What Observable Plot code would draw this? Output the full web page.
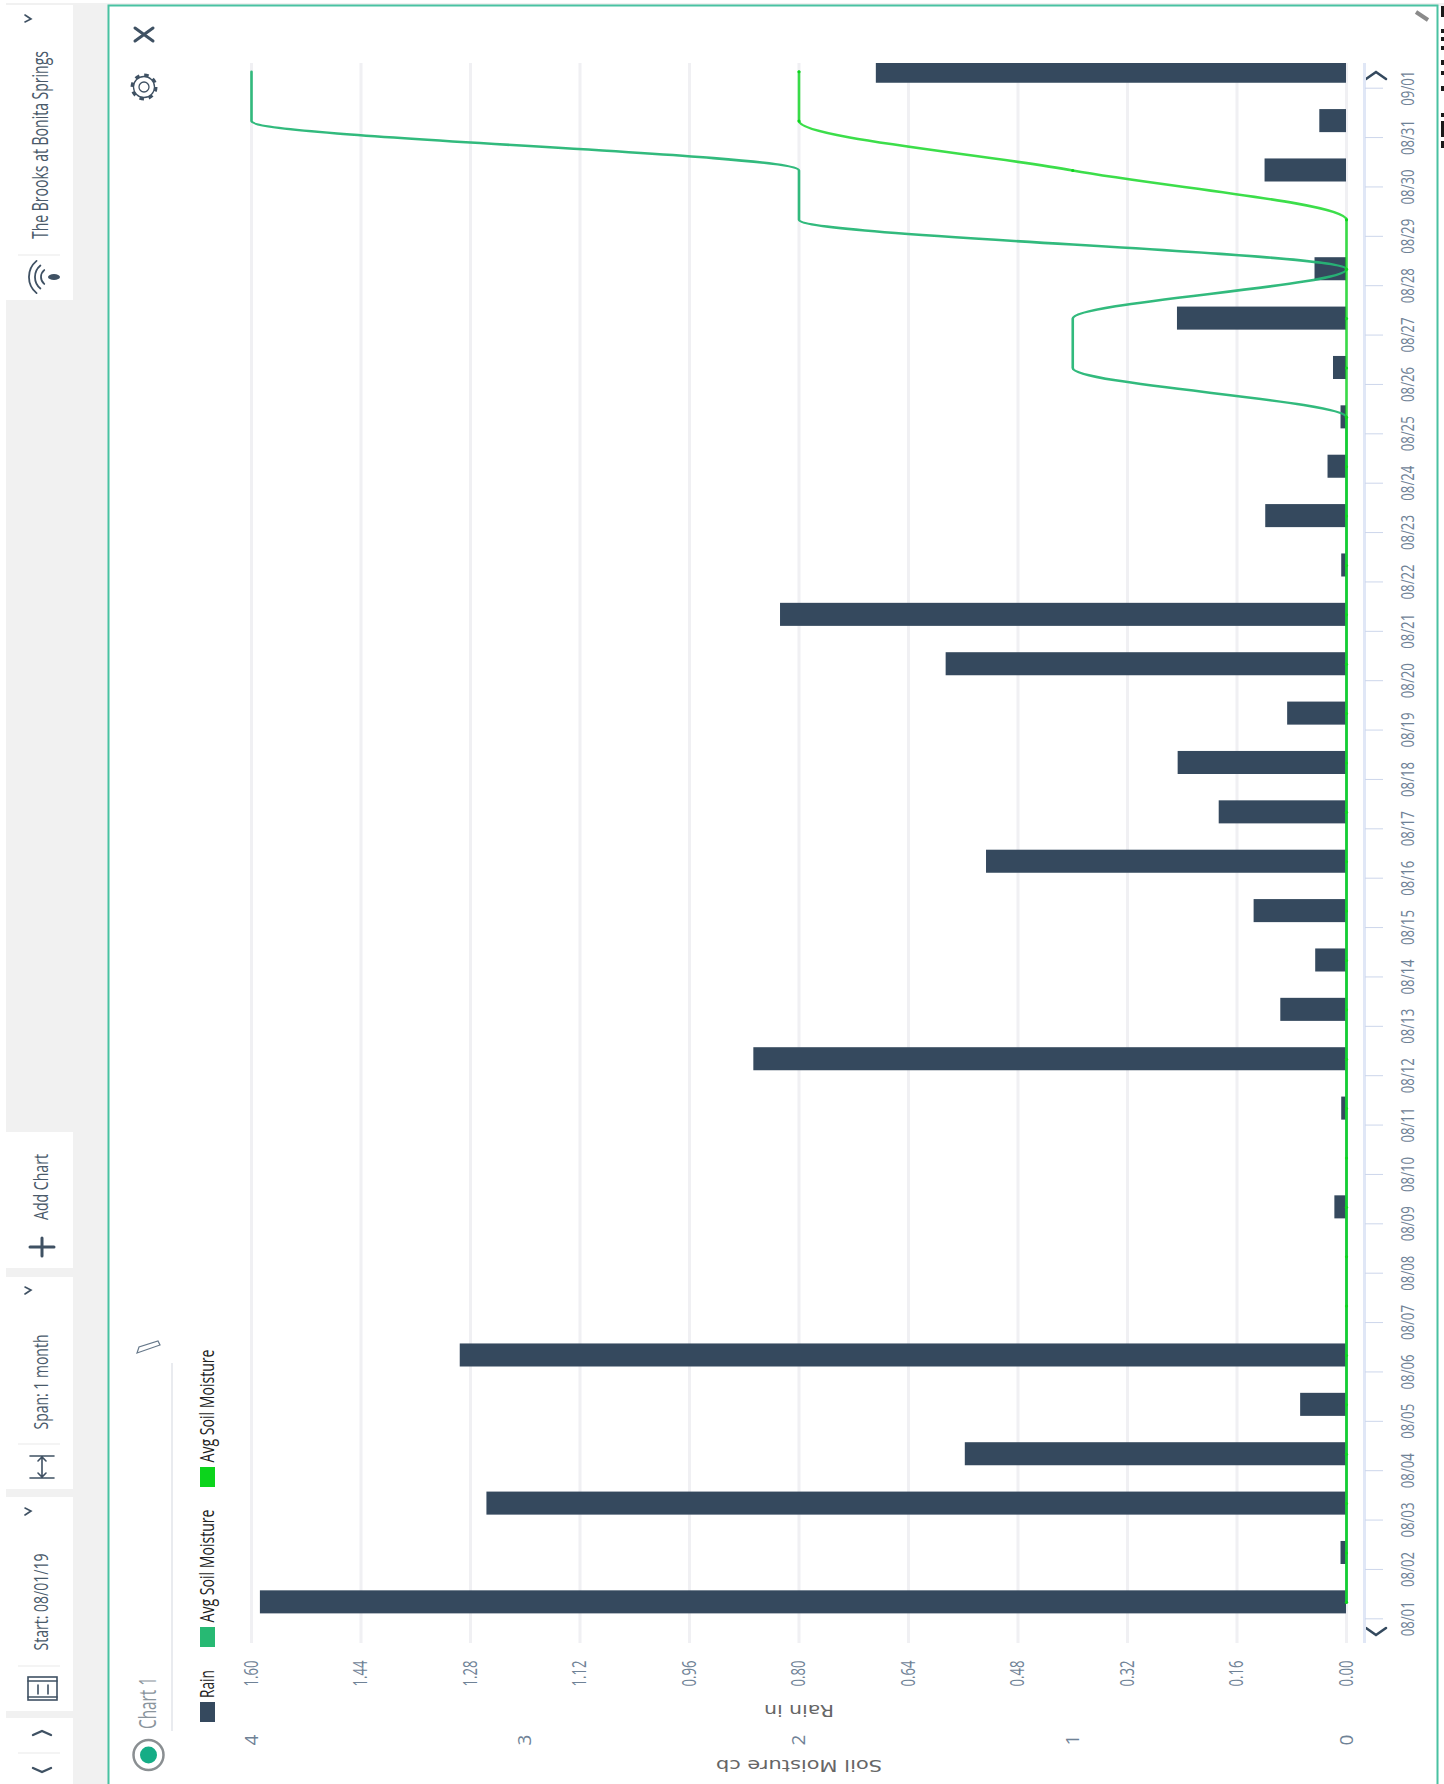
<!DOCTYPE html>
<html><head><meta charset="utf-8">
<script src="https://cdn.jsdelivr.net/npm/d3@7"></script>
<script src="https://cdn.jsdelivr.net/npm/@observablehq/plot@0.6"></script>
<style>
html,body{margin:0;padding:0;background:#fff;overflow:hidden}
#wrap{position:relative;width:1444px;height:1784px;overflow:hidden}
#wrap svg{position:absolute;left:0;top:0}
</style></head><body><div id="wrap"></div>
<script>
const dayLabels = ["08/01","08/02","08/03","08/04","08/05","08/06","08/07","08/08","08/09","08/10","08/11","08/12","08/13","08/14","08/15","08/16","08/17","08/18","08/19","08/20","08/21","08/22","08/23","08/24","08/25","08/26","08/27","08/28","08/29","08/30","08/31","09/01"];
const rainIn = [1.587,0.008,1.256,0.557,0.067,1.295,0,0,0.017,0,0.007,0.866,0.096,0.045,0.135,0.526,0.186,0.246,0.086,0.585,0.827,0.007,0.118,0.027,0.008,0.019,0.247,0.046,0,0.119,0.039,0.687];
const avgSoilTeal = [0,0,0,0,0,0,0,0,0,0,0,0,0,0,0,0,0,0,0,0,0,0,0,0,0,1,1,0,2,2,4,4];
const avgSoilGreen = [0,0,0,0,0,0,0,0,0,0,0,0,0,0,0,0,0,0,0,0,0,0,0,0,0,0,0,0,0,1,2,2];
const rainTicks = [0,0.16,0.32,0.48,0.64,0.8,0.96,1.12,1.28,1.44,1.6];
const soilTicks = [0,1,2,3,4];

const DAY = 864e5;
const day = i => new Date(Date.UTC(2019,7,1+i));
const at = (i,h) => new Date(+day(i)+h*36e5);
const rows = dayLabels.map((label,i)=>({label,i,rain:rainIn[i],teal:avgSoilTeal[i],green:avgSoilGreen[i],t:at(i,8),t1:at(i,2.4),t2:at(i,13.6)}));
const soilToRain = d => d/2.5;
const TEAL="#27b676", GREEN="#0bd61d", NAVY="#35495e", AXISTXT="#6f8296";

const chart = Plot.plot({
  width:1444,height:1784,marginLeft:251,marginRight:98,marginTop:63,marginBottom:141,
  style:{background:"transparent",overflow:"visible"},
  x:{domain:[1.6,0],label:null,axis:null},
  y:{type:"utc",domain:[new Date(Date.UTC(2019,6,31,12)),new Date(Date.UTC(2019,8,1,12))],label:null,axis:null},
  marks:[
    Plot.gridX(rainTicks,{stroke:"#f0f0f3",strokeWidth:3,strokeOpacity:1}),
    Plot.ruleX([0],{dx:18,stroke:"#e0e7f6",strokeWidth:3}),
    Plot.rectX(rows,{x1:()=>0,x2:"rain",y1:"t1",y2:"t2",fill:NAVY,clip:true}),
    Plot.lineX(rows,{x:d=>soilToRain(d.teal),y:"t",stroke:TEAL,strokeWidth:2.6,strokeOpacity:.95,curve:"monotone-y"}),
    Plot.lineX(rows,{x:d=>soilToRain(d.green),y:"t",stroke:GREEN,strokeWidth:2.6,strokeOpacity:.8,curve:"monotone-y"}),
    Plot.dot(rows,{x:d=>soilToRain(d.green),y:"t",r:1.6,fill:GREEN}),
    Plot.axisX(rainTicks,{anchor:"bottom",tickSize:0,tickPadding:17,tickRotate:-90,tickFormat:d3.format(".2f"),fontSize:20,fill:AXISTXT,ariaLabel:"rain-axis"}),
    Plot.axisX(soilTicks.map(soilToRain),{anchor:"bottom",tickSize:0,tickPadding:91,tickRotate:-90,tickFormat:d=>String(Math.round(d*2.5)),fontSize:19,fill:AXISTXT,ariaLabel:"soil-axis"}),
    Plot.axisY(rows.map(d=>d.i).map(day),{anchor:"right",dx:18,tickSize:18,tickPadding:31,tickRotate:-90,tickFormat:d=>dayLabels[Math.round((d-day(0))/DAY)],stroke:"#ccd6eb",fontSize:19,fill:AXISTXT,textStroke:"none",ariaLabel:"day-axis"}),
    Plot.text(["Rain in"],{x:()=>0.8,frameAnchor:"bottom",dy:61,rotate:180,text:d=>d,fontSize:15,fill:"#666"}),
    Plot.text(["Soil Moisture cb"],{x:()=>0.8,frameAnchor:"bottom",dy:116,rotate:180,text:d=>d,fontSize:15,fill:"#666"})
  ]
});
const FONT="'Open Sans',sans-serif";
const q=(s)=>d3.select(chart).selectAll(s);
q("text").attr("font-family",FONT);
const fit=(aria,len)=>q(`g[aria-label^="${aria}"] text`).attr("textLength",len).attr("lengthAdjust","spacingAndGlyphs");
fit("rain-axis",26);
fit("day-axis",35);
q("text").filter(function(){return this.textContent==="Rain in"}).attr("font-family","'DejaVu Sans'").attr("textLength",70).attr("lengthAdjust","spacingAndGlyphs");
q("text").filter(function(){return this.textContent==="Soil Moisture cb"}).attr("font-family","'DejaVu Sans'").attr("textLength",166).attr("lengthAdjust","spacingAndGlyphs");

const arc=r=>`M${50-.64*r} ${277-.77*r}A${r} ${r} 0 0 0 ${50-.64*r} ${277+.77*r}`;
const deadBlocks=[[6,17],[29,33],[37,41],[46,50],[60,65],[71,75],[86,91],[113,117],[121,137],[141,148]];
const chrome=`<svg width="1444" height="1784" viewBox="0 0 1444 1784" xmlns="http://www.w3.org/2000/svg" style="font-family:${FONT}">
<rect x="6" y="3" width="1438" height="3" fill="#f0f0f0"/>
<rect x="6" y="3" width="102" height="1781" fill="#f1f1f1"/>
<rect x="6" y="5" width="67" height="295" fill="#fff"/>
<rect x="6" y="1132" width="67" height="136" fill="#fff"/>
<rect x="6" y="1277" width="67" height="212" fill="#fff"/>
<rect x="6" y="1497" width="67" height="214" fill="#fff"/>
<rect x="6" y="1718" width="67" height="66" fill="#fff"/>
<g stroke="#e9e9e9"><path d="M18 255H60M18 1444H60M18 1666H60M18 1753H60"/></g>
<path d="M108.5 1784V5.5H1437.5V1784" fill="none" stroke="#49c2a2" stroke-width="2"/>
<path d="M172 1363V1731" stroke="#e2e5ea" stroke-width="1.5"/>
${[["The Brooks at Bonita Springs",48,145,188,21],["Add Chart",48,1187,66,20],["Span: 1 month",48,1382,95,20],["Start: 08/01/19",48,1602,97,20]].map(([t,x,y,l,f])=>`<text transform="translate(${x} ${y}) rotate(-90)" text-anchor="middle" font-size="${f}" fill="#4a5a6a" textLength="${l}" lengthAdjust="spacingAndGlyphs">${t}</text>`).join("")}
<text transform="translate(156 1703) rotate(-90)" text-anchor="middle" font-size="24" fill="#8a949c" textLength="52" lengthAdjust="spacingAndGlyphs">Chart 1</text>
${[["Rain",1684,28],["Avg Soil Moisture",1566,113],["Avg Soil Moisture",1406,113]].map(([t,y,l])=>`<text transform="translate(214 ${y}) rotate(-90)" text-anchor="middle" font-size="20" fill="#222" textLength="${l}" lengthAdjust="spacingAndGlyphs">${t}</text>`).join("")}
<rect x="200" y="1702" width="15" height="20" fill="#35495e"/>
<rect x="200" y="1627" width="15" height="20" fill="#27b973"/>
<rect x="200" y="1467" width="15" height="20" fill="#0cd41c"/>
<g fill="none" stroke="#3f5163" stroke-linecap="round">
<path d="M135 28L153 41M153 28L135 41" stroke-width="3"/>
<path d="M137 1353L160 1345L158 1341L139 1347Z" stroke-width="1.2" stroke="#66788a"/>
<circle cx="144" cy="87" r="5" stroke-width="1.3"/><circle cx="144" cy="87" r="12" stroke-width="3" stroke-dasharray="4.5 4.9" stroke-linecap="butt"/><circle cx="144" cy="87" r="10.5" stroke-width="1.3"/>
<path d="M25 15L31 19L25 22M25 1287L31 1290L25 1294M25 1508L31 1511L25 1515" stroke-width="1.6"/>
<path d="M33 1735L42 1731L51 1735" stroke-width="2.4"/><path d="M33 1768L42 1772L51 1768" stroke-width="2.4"/>
<path d="M1366 1628L1376 1635L1386 1628" stroke-width="2.6" stroke="#34495e"/><path d="M1366 79L1376 72L1386 79" stroke-width="2.6" stroke="#34495e"/>
<path d="M30 1247H54M42 1238V1256" stroke-width="3"/>
<path d="M30 1456H54M30 1478H54M42 1458V1476M38 1461L42 1457L46 1461M38 1473L42 1477L46 1473" stroke-width="1.6"/>
<rect x="28" y="1677" width="29" height="23" stroke-width="1.6"/><path d="M28 1681H57M28 1697H57M38 1685V1694M48 1685V1694" stroke-width="1.6"/>
<path d="${arc(9)}${arc(15)}${arc(21)}" stroke-width="1.8"/>
</g>
<ellipse cx="54" cy="277" rx="6" ry="3" fill="#3f5163"/>
<circle cx="148.5" cy="1755" r="15" fill="none" stroke="#8a8f92" stroke-width="2.5"/><circle cx="148.5" cy="1755" r="8.5" fill="#15ad86"/>
<path d="M1416 12L1428 20" stroke="#8a8a8a" stroke-width="4"/>
<path d="${deadBlocks.map(([a,b])=>`M1441 ${a}H1444V${b}H1441Z`).join("")}" fill="#1a1a1a"/>
</svg>`;
const wrap=document.getElementById("wrap");
wrap.innerHTML=chrome;
wrap.appendChild(chart);
</script></body></html>
